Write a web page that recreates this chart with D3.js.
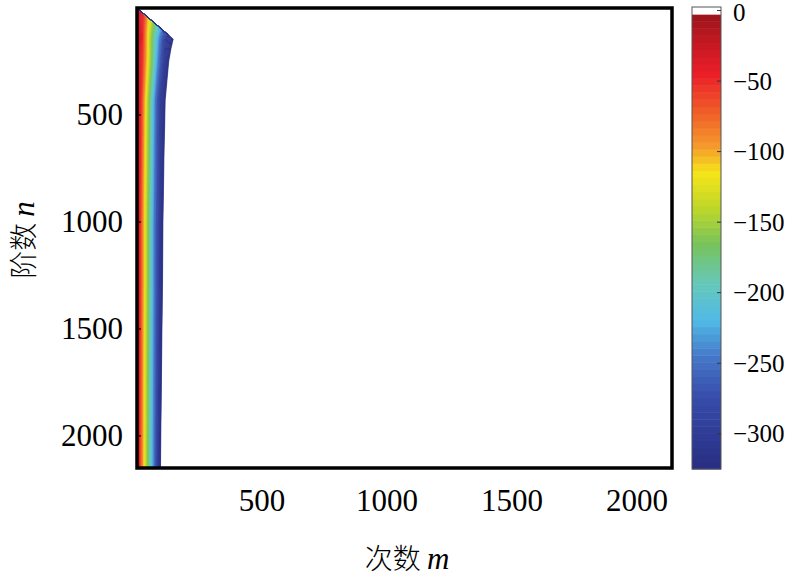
<!DOCTYPE html>
<html lang="zh">
<head>
<meta charset="UTF-8">
<title>阶数-次数 热图</title>
<script src="https://cdn.jsdelivr.net/npm/d3@7/dist/d3.min.js"></script>
<style>
html,body{margin:0;padding:0;background:#fff}
svg{display:block}
.tick-label{font-family:"Liberation Serif","DejaVu Serif",serif;font-size:31px;fill:#000}
.cb-label{font-family:"Liberation Serif","DejaVu Serif",serif;font-size:25px;fill:#000}
.axis-title{font-family:"Noto Sans CJK SC",sans-serif;font-size:28px;font-weight:300;fill:#000}
.axis-title .var{font-family:"Liberation Serif",serif;font-style:italic;font-size:31px;font-weight:400}
</style>
</head>
<body>
<svg id="chart" width="785" height="580"></svg>
<script>
// ── data ──
// rows of degree n where the contours were read
var rowN = [0, 28, 44, 64, 86, 104, 124, 145, 190, 250, 430, 700, 1000, 1300, 1600, 2150];
// contour levels (log10 value) and the order m where each row crosses them
var levels = [-15, -50, -100, -150, -200, -250, -300, -322];
var mLeft  = [0, 0, 0, 0, 0, 0, 0, 0, 0, 0, 0, 0, 0, 0, 0, 0];
var mAt50  = [0, 28, 27, 26, 25, 25, 24, 24, 23, 22, 18, 16, 14, 14, 13, 12];
var mAt100 = [0, 28, 44, 43, 42, 41, 40, 40, 40, 39, 32, 30, 28, 28, 27, 26];
var mAt150 = [0, 28, 44, 64, 61, 59, 57, 56, 56, 55, 46, 44, 42, 42, 41, 40];
var mAt200 = [0, 28, 44, 64, 86, 82, 78, 75, 74, 72, 62, 60, 58, 58, 57, 56];
var mAt250 = [0, 28, 44, 64, 86, 104, 98, 94, 91, 88, 76, 74, 72, 72, 71, 70];
var mAt300 = [0, 28, 44, 64, 86, 104, 124, 116, 112, 109, 94, 92, 90, 89, 87, 84];
var mEdge  = [0, 28, 44, 64, 86, 104, 124, 145, 136, 127, 113, 108, 104, 102, 99, 94];
var contours = [mLeft, mAt50, mAt100, mAt150, mAt200, mAt250, mAt300, mEdge];

var xTicks = [500, 1000, 1500, 2000];
var yTicks = [500, 1000, 1500, 2000];
var cbTicks = [0, -50, -100, -150, -200, -250, -300];

// colormap stops (jet-like, as printed)
var stopVals = [0, -25, -45, -70, -95, -115, -140, -165, -195, -220, -245, -275, -325];
var stopCols = ['#961419', '#c81923', '#eb1e28', '#f05a28', '#f5962d', '#f5e619', '#bed728',
                '#78c35a', '#64c8be', '#50b9e6', '#4678c8', '#374baa', '#282d82'];

var svg = d3.select('#chart');

var x = d3.scaleLinear().domain([0, 2140]).range([137, 672]);
var y = d3.scaleLinear().domain([0, 2150]).range([8, 468]);

var VMIN = -325, VMAX = 2.5, NC = 64;
var step = (VMAX - VMIN) / (NC + 1);
var jet = d3.scaleLinear().domain(stopVals).range(stopCols).clamp(true);
function colorAt(v) {
  if (v > VMAX - step) return '#ffffff';
  var k = Math.max(0, Math.min(NC - 1, Math.floor((v - VMIN) / step)));
  return jet(VMIN + (k + 0.5) * step);
}

// ── heat map bands between successive contours ──
var K = 6;
var g = svg.append('g');
for (var c = 0; c < contours.length - 1; c++) {
  var A = contours[c], B = contours[c + 1];
  for (var j = 0; j < K; j++) {
    var t0 = j / K, t1 = (j + 1) / K;
    var left = rowN.map(function(n, i) { return [x(A[i] + (B[i] - A[i]) * t0), y(n)]; });
    var right = rowN.map(function(n, i) { return [x(A[i] + (B[i] - A[i]) * t1), y(n)]; }).reverse();
    var v = levels[c] + (levels[c + 1] - levels[c]) * (j + 0.5) / K;
    var col = colorAt(v);
    g.append('path')
      .attr('d', d3.line()(left.concat(right)) + 'Z')
      .attr('fill', col).attr('stroke', col).attr('stroke-width', 0.6);
  }
}

// ── frame and ticks ──
svg.append('rect')
  .attr('x', x.range()[0]).attr('y', y.range()[0])
  .attr('width', x.range()[1] - x.range()[0]).attr('height', y.range()[1] - y.range()[0])
  .attr('fill', 'none').attr('stroke', '#000').attr('stroke-width', 3.5);

svg.selectAll('.ytick').data(yTicks).join('line')
  .attr('x1', 137).attr('x2', 141)
  .attr('y1', function(d) { return y(d); }).attr('y2', function(d) { return y(d); })
  .attr('stroke', '#000').attr('stroke-width', 1.2);

svg.selectAll('.ylab').data(yTicks).join('text')
  .attr('class', 'tick-label')
  .attr('x', 123).attr('y', function(d) { return y(d); })
  .attr('text-anchor', 'end').attr('dominant-baseline', 'central')
  .text(function(d) { return d; });

svg.selectAll('.xlab').data(xTicks).join('text')
  .attr('class', 'tick-label')
  .attr('x', function(d) { return x(d); }).attr('y', 500)
  .attr('text-anchor', 'middle').attr('dominant-baseline', 'central')
  .text(function(d) { return d; });

// axis titles
var xt = svg.append('text').attr('class', 'axis-title')
  .attr('x', 407).attr('y', 569).attr('text-anchor', 'middle');
xt.append('tspan').text('次数 ');
xt.append('tspan').attr('class', 'var').text('m');

var yt = svg.append('text').attr('class', 'axis-title')
  .attr('transform', 'translate(34,240) rotate(-90)').attr('text-anchor', 'middle');
yt.append('tspan').text('阶数 ');
yt.append('tspan').attr('class', 'var').text('n');

// ── colour bar ──
var cb = d3.scaleLinear().domain([VMAX, VMIN]).range([7, 469]);
var cbX = 692, cbW = 29;
var cbSteps = d3.range(NC + 1).map(function(k) { return VMIN + k * step; });
svg.selectAll('.cb').data(cbSteps).join('rect')
  .attr('x', cbX).attr('width', cbW)
  .attr('y', function(d) { return cb(d + step); })
  .attr('height', cb(VMIN) - cb(VMIN + step) + 0.5)
  .attr('fill', function(d) { return colorAt(d + step / 2); });
svg.append('rect')
  .attr('x', cbX).attr('y', cb(VMAX)).attr('width', cbW).attr('height', cb(VMIN) - cb(VMAX))
  .attr('fill', 'none').attr('stroke', '#555').attr('stroke-width', 1);

svg.selectAll('.cbtick').data(cbTicks).join('line')
  .attr('x1', cbX + cbW - 4).attr('x2', cbX + cbW)
  .attr('y1', function(d) { return cb(d); }).attr('y2', function(d) { return cb(d); })
  .attr('stroke', '#333').attr('stroke-width', 1);

svg.selectAll('.cblab').data(cbTicks).join('text')
  .attr('class', 'cb-label')
  .attr('x', 733).attr('y', function(d) { return cb(d) + (d === 0 ? 2 : 0); })
  .attr('dominant-baseline', 'central')
  .text(function(d) { return d3.format('')(d); });
</script>
</body>
</html>
